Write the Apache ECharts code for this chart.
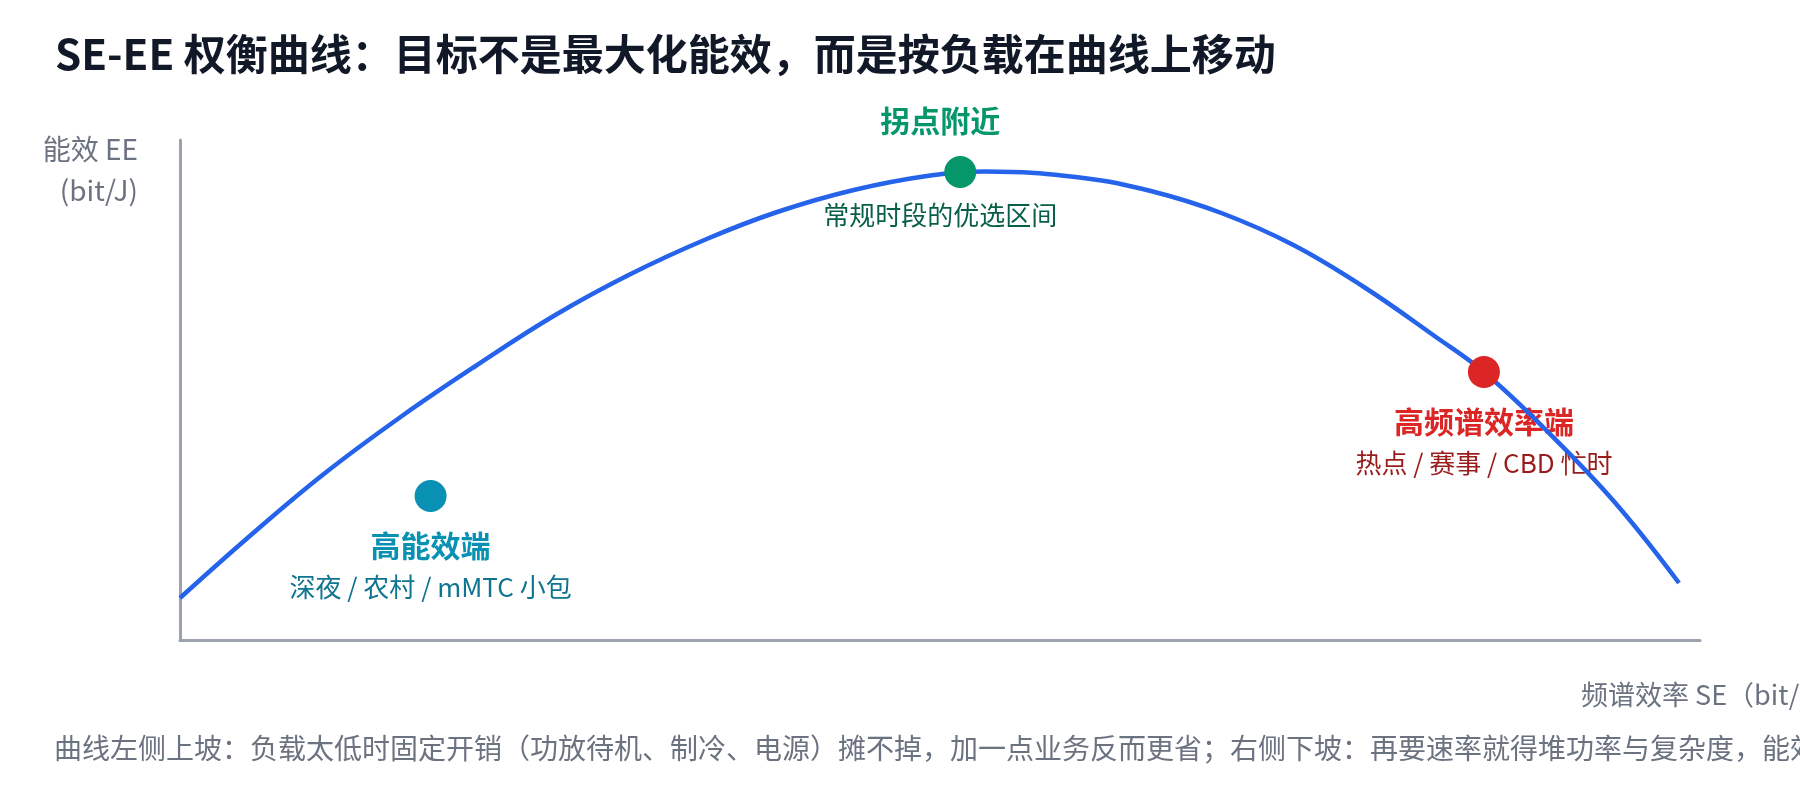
<!DOCTYPE html>
<html>
<head>
<meta charset="utf-8">
<script src="https://cdn.jsdelivr.net/npm/echarts@6/dist/echarts.min.js"></script>
<style>
html,body{margin:0;padding:0;background:#fff;}
#main{width:1800px;height:800px;}
</style>
</head>
<body>
<div id="main"></div>
<script>
// Curve: spectral efficiency (SE) vs energy efficiency (EE)
var seValues = [0, 0.45, 0.95, 1.47, 1.97, 2.49, 2.99, 3.51, 3.98, 4.49, 5.00, 5.37, 6.02, 6.47, 6.94, 7.42, 7.89, 8.37, 8.69, 9.09, 9.56, 9.99];
var eeValues = [0.84, 2.04, 3.30, 4.46, 5.48, 6.48, 7.30, 8.02, 8.56, 9.00, 9.29, 9.37, 9.24, 8.98, 8.54, 7.90, 7.06, 6.06, 5.36, 4.24, 2.76, 1.14];

// Key operating points
var keyNames = ['高能效端', '拐点附近', '高频谱效率端'];
var keySubs = ['深夜 / 农村 / mMTC 小包', '常规时段的优选区间', '热点 / 赛事 / CBD 忙时'];
var keySE = [1.67, 5.20, 8.69];
var keyEE = [2.88, 9.36, 5.36];

var titleText = 'SE-EE 权衡曲线：目标不是最大化能效，而是按负载在曲线上移动';
var xName = '频谱效率 SE（bit/s/Hz）';
var yName = '能效 EE\n(bit/J)';
var footText = '曲线左侧上坡：负载太低时固定开销（功放待机、制冷、电源）摊不掉，加一点业务反而更省；右侧下坡：再要速率就得堆功率与复杂度，能效随之下滑。';

var dotColors = ['#0891b2', '#059669', '#dc2626'];
var headColors = ['#0891b2', '#059669', '#dc2626'];
var subColors = ['#0e7490', '#065f46', '#991b1b'];
var headOffsets = [[0, 50], [-20, -51], [0, 50]];
var subOffsets = [[0, 91], [-20, 43], [0, 91]];

var FONT = '"Noto Sans CJK SC", "Noto Sans", sans-serif';

var curveData = seValues.map(function (x, i) { return [x, eeValues[i]]; });
var dotData = keySE.map(function (x, i) {
  return { value: [x, keyEE[i]], itemStyle: { color: dotColors[i], opacity: 1 } };
});
var headData = keySE.map(function (x, i) {
  return {
    value: [x, keyEE[i]],
    label: { show: true, position: 'inside', offset: headOffsets[i], formatter: keyNames[i],
      color: headColors[i], fontSize: 30, fontWeight: 'bold', fontFamily: FONT, opacity: 1 }
  };
});
var subData = keySE.map(function (x, i) {
  return {
    value: [x, keyEE[i]],
    label: { show: true, position: 'inside', offset: subOffsets[i], formatter: keySubs[i],
      color: subColors[i], fontSize: 26, fontFamily: FONT, opacity: 1 }
  };
});

var chart = echarts.init(document.getElementById('main'));
chart.setOption({
  backgroundColor: '#ffffff',
  animation: false,
  title: {
    text: titleText,
    left: 50,
    top: 28,
    textStyle: { color: '#111827', fontSize: 42, fontWeight: 'bold', fontFamily: FONT }
  },
  grid: { left: 180, right: 100, top: 140, bottom: 160, outerBoundsMode: 'none', containLabel: false },
  xAxis: {
    type: 'value',
    min: 0,
    max: 10.13,
    axisLine: { show: true, lineStyle: { color: '#9ca3af', width: 3 } },
    axisTick: { show: false },
    axisLabel: { show: false },
    splitLine: { show: false }
  },
  yAxis: {
    type: 'value',
    min: 0,
    max: 10,
    name: yName,
    nameLocation: 'end',
    nameGap: -30,
    nameTextStyle: { color: '#6b7280', fontSize: 28, fontFamily: FONT, align: 'right', verticalAlign: 'middle', lineHeight: 41, padding: [0, 42, 0, 0] },
    axisLine: { show: true, lineStyle: { color: '#9ca3af', width: 3 } },
    axisTick: { show: false },
    axisLabel: { show: false },
    splitLine: { show: false }
  },
  graphic: [
    {
      type: 'text',
      left: 1581,
      top: 681,
      style: { text: xName, fill: '#6b7280', font: '27px ' + FONT }
    },
    {
      type: 'text',
      left: 54,
      top: 734,
      style: { text: footText, fill: '#6b7280', font: '28px ' + FONT }
    }
  ],
  series: [
    {
      type: 'scatter', name: 'labels-head', z: 1, silent: true,
      symbolSize: 1, itemStyle: { color: 'rgba(0,0,0,0)', opacity: 1 },
      data: headData
    },
    {
      type: 'scatter', name: 'labels-sub', z: 1, silent: true,
      symbolSize: 1, itemStyle: { color: 'rgba(0,0,0,0)', opacity: 1 },
      data: subData
    },
    {
      type: 'line', name: 'SE-EE', z: 2,
      data: curveData, smooth: 0.4, showSymbol: false,
      lineStyle: { color: '#2563eb', width: 4.5 }
    },
    {
      type: 'scatter', name: 'points', z: 3,
      symbolSize: 32,
      data: dotData
    }
  ]
});
</script>
</body>
</html>
